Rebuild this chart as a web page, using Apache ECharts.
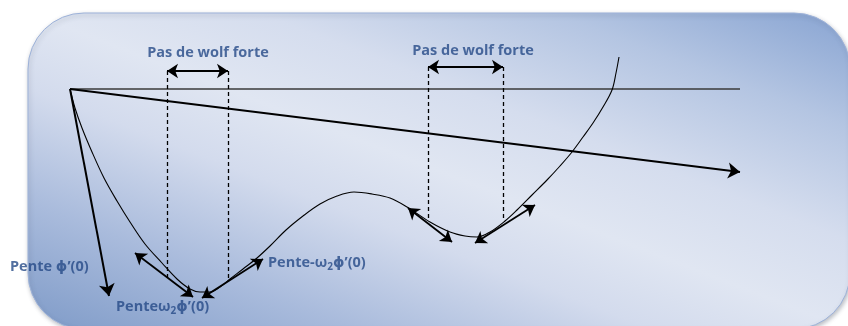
<!DOCTYPE html>
<html>
<head>
<meta charset="utf-8">
<script src="https://cdn.jsdelivr.net/npm/echarts@6/dist/echarts.min.js"></script>
<style>
  html, body { margin: 0; padding: 0; background: #ffffff; }
  #chart { width: 848px; height: 326px; }
</style>
</head>
<body>
<div id="chart"></div>
<script>
// Line-search function phi(alpha), sampled along the step axis (x) with value (y, downwards)
const curveX = [70, 75, 82, 92, 104, 117, 130, 145, 162, 177, 190, 200, 210, 220, 230, 243, 257, 270, 286, 303, 320, 337, 354, 372, 390, 407, 430, 450, 465, 477, 490, 505, 517, 532, 547, 560, 572, 583, 593, 603, 612, 616, 619];
const curveY = [89, 108, 128, 152, 178, 201, 222, 244, 263, 279, 289, 292, 292, 287, 279, 269, 258, 246, 230, 216, 204, 196, 192, 194, 198, 207, 222, 232, 236, 237, 232, 221, 210, 195, 180, 166, 152, 137, 123, 107, 90, 73, 57];

// Reference level phi(0) and the Armijo line
const levelLine = [[70, 89], [740, 89]];
const armijoLine = [[70, 89], [740, 172]];
// Initial slope phi'(0)
const slopeLine = [[70, 89], [109, 296]];

// Tangents at the two local minima (double-headed)
const tangentLines = [
  [[135, 253], [193, 297]],
  [[202, 298], [263, 259]],
  [[408, 208], [452, 242]],
  [[475, 243], [535, 205]]
];

// Accepted step intervals (strong Wolfe)
const wolfeIntervals = [
  { from: 167, to: 228, top: 71, bottom: 280 },
  { from: 428, to: 503, top: 67, bottom: 220 }
];

// Text annotations
const annotations = [
  { text: '{a|Pas de wolf forte}', x: 208, y: 53, align: 'center' },
  { text: '{a|Pas de wolf forte}', x: 473, y: 51, align: 'center' },
  { text: '{a|Pente ϕ’(0)}', x: 10, y: 267, align: 'left' },
  { text: '{a|Penteω}{s|2}{a|ϕ’(0)}', x: 116, y: 307, align: 'left' },
  { text: '{a|Pente-ω}{s|2}{a|ϕ’(0)}', x: 268, y: 263, align: 'left' }
];

const chart = echarts.init(document.getElementById('chart'), null, { renderer: 'canvas' });

const textColor = '#264a87';
const font = '"Open Sans", "DejaVu Sans", sans-serif';

const curveData = curveX.map((x, i) => [x, curveY[i]]);

const dashedData = [];
const wolfArrows = [];
wolfeIntervals.forEach(w => {
  dashedData.push({ coords: [[w.from, w.top], [w.from, w.bottom]] });
  dashedData.push({ coords: [[w.to, w.top], [w.to, w.bottom]] });
  wolfArrows.push({ coords: [[w.from, w.top], [w.to, w.top]] });
});

const bgGradient = new echarts.graphic.LinearGradient(333, 446, 545, -104, [
  { offset: 0, color: '#7f9bc8' },
  { offset: 0.2, color: '#a9bbdc' },
  { offset: 0.38, color: '#d3dbed' },
  { offset: 0.5, color: '#e0e6f2' },
  { offset: 0.64, color: '#d5ddee' },
  { offset: 0.82, color: '#b4c5e2' },
  { offset: 1, color: '#88a4d2' }
], true);

chart.setOption({
  animation: false,
  backgroundColor: '#ffffff',
  graphic: [{
    type: 'rect',
    z: -10,
    shape: { x: 28, y: 13, width: 822, height: 316, r: 56 },
    style: {
      fill: bgGradient,
      stroke: '#9db2d9',
      lineWidth: 1,
      shadowBlur: 4,
      shadowColor: 'rgba(60,70,90,0.35)',
      shadowOffsetX: 1,
      shadowOffsetY: 2
    }
  }],
  grid: { left: 0, right: 0, top: 0, bottom: 0 },
  xAxis: { type: 'value', min: 0, max: 848, show: false },
  yAxis: { type: 'value', min: 0, max: 326, inverse: true, show: false },
  series: [
    {
      type: 'line',
      data: curveData,
      smooth: 0.35,
      showSymbol: false,
      lineStyle: { color: '#000', width: 1.1 },
      z: 3
    },
    {
      type: 'lines',
      coordinateSystem: 'cartesian2d',
      symbol: ['none', 'none'],
      data: [{ coords: levelLine }],
      lineStyle: { color: '#3a3a3a', width: 1.5, opacity: 1 },
      z: 3
    },
    {
      type: 'lines',
      coordinateSystem: 'cartesian2d',
      symbol: ['none', 'arrow'],
      symbolSize: 12,
      data: [{ coords: armijoLine }, { coords: slopeLine }],
      lineStyle: { color: '#000', width: 2, opacity: 1 },
      z: 4
    },
    {
      type: 'lines',
      coordinateSystem: 'cartesian2d',
      symbol: ['arrow', 'arrow'],
      symbolSize: 11,
      data: tangentLines.map(c => ({ coords: c })),
      lineStyle: { color: '#000', width: 1.8, opacity: 1 },
      z: 4
    },
    {
      type: 'lines',
      coordinateSystem: 'cartesian2d',
      symbol: ['arrow', 'arrow'],
      symbolSize: 11,
      data: wolfArrows,
      lineStyle: { color: '#000', width: 1.8, opacity: 1 },
      z: 4
    },
    {
      type: 'lines',
      coordinateSystem: 'cartesian2d',
      symbol: ['none', 'none'],
      data: dashedData,
      lineStyle: { color: '#000', width: 1.3, type: [4, 3], opacity: 1 },
      z: 3
    },
    {
      type: 'scatter',
      symbolSize: 0,
      silent: true,
      data: annotations.map(a => ({
        value: [a.x, a.y],
        label: {
          show: true,
          position: 'inside',
          align: a.align,
          verticalAlign: 'middle',
          formatter: a.text
        }
      })),
      label: {
        color: textColor,
        fontFamily: font,
        fontWeight: 'bold',
        fontSize: 14.5,
        rich: {
          a: { color: textColor, fontFamily: font, fontWeight: 'bold', fontSize: 14.5, lineHeight: 18, verticalAlign: 'middle' },
          s: { color: textColor, fontFamily: font, fontWeight: 'bold', fontSize: 10, lineHeight: 18, verticalAlign: 'bottom' }
        }
      },
      z: 5
    }
  ]
});
</script>
</body>
</html>
